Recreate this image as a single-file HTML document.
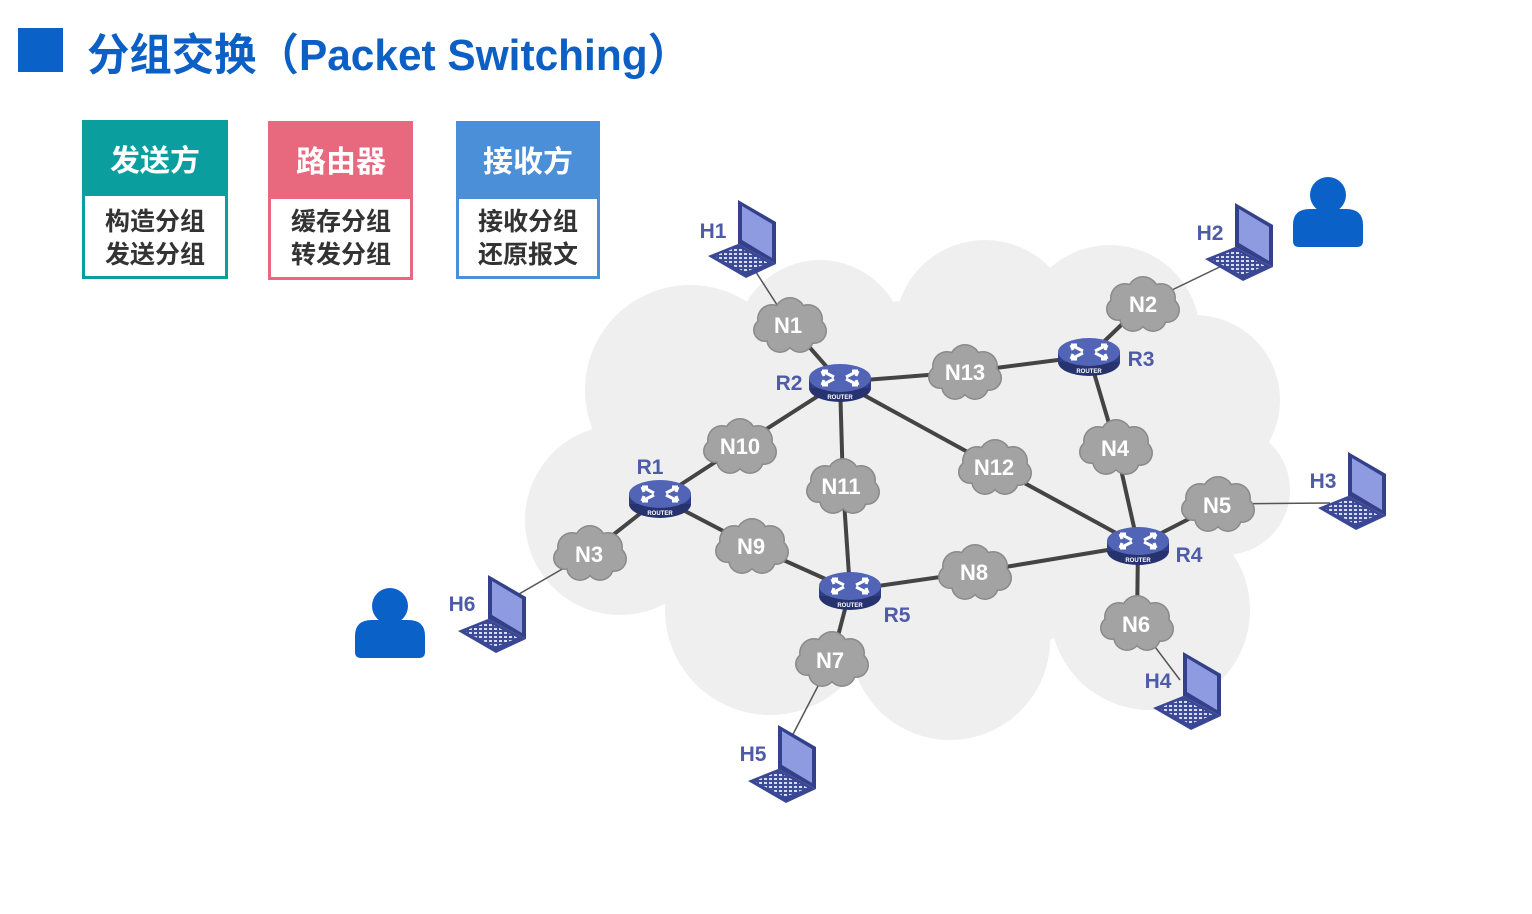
<!DOCTYPE html>
<html><head><meta charset="utf-8"><style>
html,body{margin:0;padding:0;background:#fff;}
svg{display:block;}
text{font-family:"Liberation Sans","Noto Sans CJK SC",sans-serif;}
</style></head><body>
<svg width="1532" height="914" viewBox="0 0 1532 914" xmlns="http://www.w3.org/2000/svg">
<defs>
<g id="mc">
  <g fill="#8a8a8a">
    <circle cx="-18" cy="-6" r="15"/><circle cx="0" cy="-12" r="16"/><circle cx="18" cy="-6" r="15"/>
    <circle cx="24" cy="6" r="13"/><circle cx="10" cy="14" r="14"/><circle cx="-10" cy="14" r="14"/><circle cx="-25" cy="5" r="12"/>
  </g>
  <g fill="#a3a3a3">
    <circle cx="-18" cy="-6" r="13.5"/><circle cx="0" cy="-12" r="14.5"/><circle cx="18" cy="-6" r="13.5"/>
    <circle cx="24" cy="6" r="11.5"/><circle cx="10" cy="14" r="12.5"/><circle cx="-10" cy="14" r="12.5"/><circle cx="-25" cy="5" r="10.5"/>
    <ellipse cx="0" cy="2" rx="26" ry="16"/>
  </g>
</g>
<g id="rt">
  <ellipse cx="0" cy="8" rx="31" ry="14" fill="#27336e"/>
  <rect x="-31" y="-2" width="62" height="10" fill="#2f3d85"/>
  <ellipse cx="0" cy="-2" rx="31" ry="14" fill="#5264b6"/>
  <g stroke="#fff" stroke-width="3" fill="none">
    <path d="M-18,-9 L-6,-3 M-18,-9 l6,0 M-18,-9 l2,5"/>
    <path d="M18,-9 L6,-3 M18,-9 l-6,0 M18,-9 l-2,5"/>
    <path d="M-18,5 L-6,-1 M-18,5 l6,0 M-18,5 l2,-5"/>
    <path d="M18,5 L6,-1 M18,5 l-6,0 M18,5 l-2,-5"/>
  </g>
  <text x="0" y="19" font-size="6" fill="#fff" text-anchor="middle" font-weight="bold">ROUTER</text>
</g>
<pattern id="kb" width="5" height="4" patternUnits="userSpaceOnUse"><rect width="5" height="4" fill="#3e4c98"/><rect x="1" y="1" width="3" height="2" fill="#d7ddf5"/></pattern>
<g id="lp">
  <polygon points="30,0 68,22 68,64 30,44" fill="#34418a"/>
  <polygon points="34,6 64,24 64,58 34,40" fill="#8f9be0"/>
  <polygon points="0,56 30,44 68,64 38,78" fill="#3a4794"/>
  <polygon points="6,56 30,47 60,63 37,72" fill="url(#kb)"/>
</g>
<g id="ps" fill="#0a62c9">
  <circle cx="0" cy="-18" r="18"/>
  <path d="M-35,28 L-35,12 Q-35,-4 -18,-4 L18,-4 Q35,-4 35,12 L35,28 Q35,34 29,34 L-29,34 Q-35,34 -35,28 Z"/>
</g>
</defs>

<!-- title -->
<rect x="18" y="28" width="45" height="44" fill="#0a62c9"/>
<text x="87" y="70" font-size="44" font-weight="bold" fill="#0b5fc5" textLength="603" lengthAdjust="spacingAndGlyphs">分组交换（Packet Switching）</text>

<!-- boxes -->
<rect x="83.5" y="121.5" width="143" height="156" fill="#fff" stroke="#0a9e9e" stroke-width="3"/>
<rect x="82" y="120" width="146" height="76" fill="#0a9e9e"/>
<text x="155" y="171" font-size="30" font-weight="bold" fill="#fff" text-anchor="middle">发送方</text>
<text x="155" y="230" font-size="25" font-weight="bold" fill="#333" text-anchor="middle">构造分组</text>
<text x="155" y="263" font-size="25" font-weight="bold" fill="#333" text-anchor="middle">发送分组</text>

<rect x="269.5" y="122.5" width="142" height="156" fill="#fff" stroke="#e8697e" stroke-width="3"/>
<rect x="268" y="121" width="145" height="78" fill="#e8697e"/>
<text x="341" y="172" font-size="30" font-weight="bold" fill="#fff" text-anchor="middle">路由器</text>
<text x="341" y="230" font-size="25" font-weight="bold" fill="#333" text-anchor="middle">缓存分组</text>
<text x="341" y="263" font-size="25" font-weight="bold" fill="#333" text-anchor="middle">转发分组</text>

<rect x="457.5" y="122.5" width="141" height="155" fill="#fff" stroke="#4a8fd8" stroke-width="3"/>
<rect x="456" y="121" width="144" height="78" fill="#4a8fd8"/>
<text x="528" y="172" font-size="30" font-weight="bold" fill="#fff" text-anchor="middle">接收方</text>
<text x="528" y="230" font-size="25" font-weight="bold" fill="#333" text-anchor="middle">接收分组</text>
<text x="528" y="263" font-size="25" font-weight="bold" fill="#333" text-anchor="middle">还原报文</text>

<!-- big cloud -->
<g fill="#efefef">
  <circle cx="690" cy="390" r="105"/><circle cx="820" cy="345" r="85"/><circle cx="985" cy="330" r="90"/>
  <circle cx="1110" cy="335" r="90"/><circle cx="1195" cy="400" r="85"/><circle cx="1225" cy="490" r="65"/>
  <circle cx="1150" cy="610" r="100"/><circle cx="950" cy="640" r="100"/><circle cx="770" cy="610" r="105"/>
  <circle cx="620" cy="520" r="95"/><circle cx="700" cy="480" r="120"/><ellipse cx="930" cy="480" rx="260" ry="180"/>
</g>

<!-- thin links -->
<g stroke="#555" stroke-width="1.5">
  <line x1="745" y1="255" x2="790" y2="325"/><line x1="1143" y1="304" x2="1230" y2="262"/>
  <line x1="1218" y1="504" x2="1330" y2="503"/><line x1="1137" y1="623" x2="1180" y2="680"/>
  <line x1="832" y1="659" x2="790" y2="740"/><line x1="590" y1="553" x2="500" y2="605"/>
</g>
<!-- thick links -->
<g stroke="#444" stroke-width="4">
  <line x1="790" y1="325" x2="840" y2="382"/><line x1="840" y1="382" x2="965" y2="372"/>
  <line x1="965" y1="372" x2="1089" y2="356"/><line x1="1089" y1="356" x2="1143" y2="304"/>
  <line x1="1089" y1="356" x2="1116" y2="447"/><line x1="1116" y1="447" x2="1138" y2="545"/>
  <line x1="1138" y1="545" x2="1218" y2="504"/><line x1="1138" y1="545" x2="1137" y2="623"/>
  <line x1="1138" y1="545" x2="995" y2="467"/><line x1="995" y1="467" x2="840" y2="382"/>
  <line x1="1138" y1="545" x2="975" y2="572"/><line x1="975" y1="572" x2="850" y2="590"/>
  <line x1="850" y1="590" x2="832" y2="659"/><line x1="850" y1="590" x2="843" y2="486"/>
  <line x1="843" y1="486" x2="840" y2="382"/><line x1="850" y1="590" x2="752" y2="546"/>
  <line x1="752" y1="546" x2="660" y2="498"/><line x1="660" y1="498" x2="740" y2="446"/>
  <line x1="740" y1="446" x2="840" y2="382"/><line x1="660" y1="498" x2="590" y2="553"/>
</g>

<!-- mini clouds -->
<g font-size="22" font-weight="bold" fill="#fff" text-anchor="middle">
  <use href="#mc" x="790" y="325"/><text x="788" y="333">N1</text>
  <use href="#mc" x="1143" y="304"/><text x="1143" y="312">N2</text>
  <use href="#mc" x="590" y="553"/><text x="589" y="562">N3</text>
  <use href="#mc" x="1116" y="447"/><text x="1115" y="456">N4</text>
  <use href="#mc" x="1218" y="504"/><text x="1217" y="513">N5</text>
  <use href="#mc" x="1137" y="623"/><text x="1136" y="632">N6</text>
  <use href="#mc" x="832" y="659"/><text x="830" y="668">N7</text>
  <use href="#mc" x="975" y="572"/><text x="974" y="580">N8</text>
  <use href="#mc" x="752" y="546"/><text x="751" y="554">N9</text>
  <use href="#mc" x="740" y="446"/><text x="740" y="454">N10</text>
  <use href="#mc" x="843" y="486"/><text x="841" y="494">N11</text>
  <use href="#mc" x="995" y="467"/><text x="994" y="475">N12</text>
  <use href="#mc" x="965" y="372"/><text x="965" y="380">N13</text>
</g>

<!-- routers -->
<use href="#rt" x="660" y="496"/><use href="#rt" x="840" y="380"/><use href="#rt" x="1089" y="354"/>
<use href="#rt" x="1138" y="543"/><use href="#rt" x="850" y="588"/>

<!-- laptops -->
<use href="#lp" x="708" y="200"/><use href="#lp" x="1205" y="203"/><use href="#lp" x="1318" y="452"/>
<use href="#lp" x="1153" y="652"/><use href="#lp" x="748" y="725"/><use href="#lp" x="458" y="575"/>

<!-- labels -->
<g font-size="21" font-weight="bold" fill="#4e5ca8">
  <text x="650" y="474" text-anchor="middle">R1</text>
  <text x="789" y="390" text-anchor="middle">R2</text>
  <text x="1141" y="366" text-anchor="middle">R3</text>
  <text x="1189" y="562" text-anchor="middle">R4</text>
  <text x="897" y="622" text-anchor="middle">R5</text>
  <text x="713" y="238" text-anchor="middle">H1</text>
  <text x="1210" y="240" text-anchor="middle">H2</text>
  <text x="1323" y="488" text-anchor="middle">H3</text>
  <text x="1158" y="688" text-anchor="middle">H4</text>
  <text x="753" y="761" text-anchor="middle">H5</text>
  <text x="462" y="611" text-anchor="middle">H6</text>
</g>

<!-- persons -->
<use href="#ps" x="1328" y="213"/>
<use href="#ps" x="390" y="624"/>
</svg>
</body></html>
